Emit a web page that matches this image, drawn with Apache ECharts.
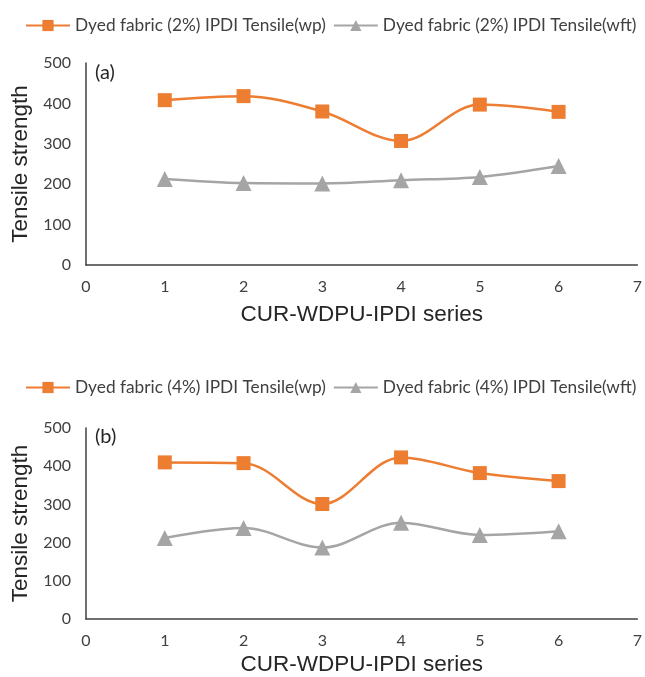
<!DOCTYPE html>
<html>
<head>
<meta charset="utf-8">
<script src="https://cdn.jsdelivr.net/npm/echarts@6/dist/echarts.min.js"></script>
<style>
  html, body { margin: 0; padding: 0; background: #fff; }
  #main { width: 645px; height: 677px; }
</style>
</head>
<body>
<div id="main"></div>
<script>
// series index on the x axis
var xValues = [1, 2, 3, 4, 5, 6];

// (a) 2% IPDI
var wp2 = [408, 418, 380, 307, 397, 379];
var wft2 = [213, 203, 202, 210, 218, 245];

// (b) 4% IPDI
var wp4 = [410, 408, 301, 423, 382, 361];
var wft4 = [212, 238, 187, 252, 220, 230];

var names = ['Dyed fabric (2%) IPDI Tensile(wp)', 'Dyed fabric (2%) IPDI Tensile(wft)',
             'Dyed fabric (4%) IPDI Tensile(wp)', 'Dyed fabric (4%) IPDI Tensile(wft)'];

var orange = '#ED7D31';
var grey = '#A5A5A5';
var axisColor = '#404040';
var labelFont = 'Lato';
var titleFont = 'Liberation Sans';

function pairs(vals) {
    return xValues.map(function (x, i) { return [x, vals[i]]; });
}

function xAxisFor(idx, gap) {
    return {
        gridIndex: idx, type: 'value', min: 0, max: 7, interval: 1,
        name: 'CUR-WDPU-IPDI series', nameLocation: 'middle', nameGap: gap,
        nameTextStyle: { fontFamily: titleFont, fontSize: 22.5, color: '#262626' },
        axisLine: { show: true, lineStyle: { color: axisColor, width: 1.5 } },
        axisTick: { show: false },
        splitLine: { show: false },
        axisLabel: { fontFamily: labelFont, fontSize: 16, color: '#404040', margin: 14 }
    };
}

function yAxisFor(idx) {
    return {
        gridIndex: idx, type: 'value', min: 0, max: 500, interval: 100,
        name: 'Tensile strength', nameLocation: 'middle', nameGap: 53, nameRotate: 90,
        nameTextStyle: { fontFamily: titleFont, fontSize: 22.5, color: '#262626' },
        axisLine: { show: true, lineStyle: { color: axisColor, width: 1.5 } },
        axisTick: { show: false },
        splitLine: { show: false },
        axisLabel: { fontFamily: labelFont, fontSize: 16, color: '#404040', margin: 15 }
    };
}

function line(name, vals, idx, color, symbol) {
    return {
        name: name, type: 'line', xAxisIndex: idx, yAxisIndex: idx,
        data: pairs(vals), smooth: 0.35,
        symbol: symbol, symbolSize: symbol === 'rect' ? 14 : 16,
        lineStyle: { color: color, width: 2.5 },
        itemStyle: { color: color },
        z: symbol === 'rect' ? 3 : 2
    };
}

var legendText = { fontFamily: labelFont, fontSize: 17.3, color: '#404040' };

var chart = echarts.init(document.getElementById('main'));
chart.setOption({
    animation: false,
    legend: [
        { data: [names[0], names[1]], left: 20, top: 12, itemWidth: 44, itemHeight: 14, itemGap: 7, textStyle: legendText },
        { data: [names[2], names[3]], left: 20, top: 374, itemWidth: 44, itemHeight: 14, itemGap: 7, textStyle: legendText }
    ],
    grid: [
        { left: 86, right: 3, top: 63, height: 202 },
        { left: 86, right: 3, top: 428, height: 191 }
    ],
    xAxis: [xAxisFor(0, 38), xAxisFor(1, 34)],
    yAxis: [yAxisFor(0), yAxisFor(1)],
    graphic: [
        { type: 'text', left: 95, top: 63, style: { text: '(a)', fontFamily: labelFont, fontSize: 20, fill: '#262626' } },
        { type: 'text', left: 95, top: 427, style: { text: '(b)', fontFamily: labelFont, fontSize: 20, fill: '#262626' } }
    ],
    series: [
        line(names[0], wp2, 0, orange, 'rect'),
        line(names[1], wft2, 0, grey, 'triangle'),
        line(names[2], wp4, 1, orange, 'rect'),
        line(names[3], wft4, 1, grey, 'triangle')
    ]
});
</script>
</body>
</html>
